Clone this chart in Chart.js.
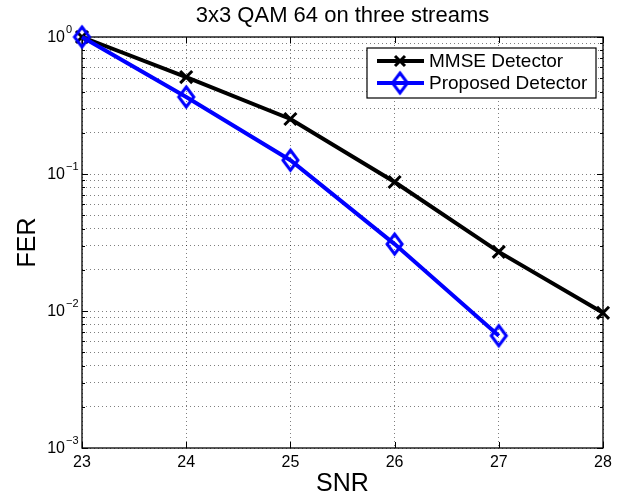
<!DOCTYPE html>
<html>
<head>
<meta charset="utf-8">
<script src="https://cdn.jsdelivr.net/npm/chart.js@4/dist/chart.umd.min.js"></script>
<style>
  html, body { margin: 0; padding: 0; background: #fff; }
</style>
</head>
<body>
<canvas id="myChart" width="626" height="497"></canvas>
<script>
//data
const snr = [23, 24, 25, 26, 27, 28];
const mmseFer = [1.0, 0.51, 0.252, 0.0874, 0.027, 0.0097];
const proposedFer = [1.0, 0.365, 0.126, 0.0308, 0.0066];

const xTicks = [23, 24, 25, 26, 27, 28];
const decades = [0.001, 0.01, 0.1];
const mantissas = [1, 2, 3, 4, 5, 6, 7, 8, 9];
const decadeTicks = [1, 0.1, 0.01, 0.001];
const decadeExps = ['0', '\u22121', '\u22122', '\u22123'];
const yTicks = decades.flatMap(d => mantissas.map(m => +(d * m).toPrecision(3))).concat([1]);

const FONT = '"Liberation Sans", Arial, Helvetica, sans-serif';

// hollow diamond marker, a bit taller than wide like matlab's
function diamondMarker(w, h, lw, color) {
    const c = document.createElement('canvas');
    c.width = w + lw * 2 + 2;
    c.height = h + lw * 2 + 2;
    const g = c.getContext('2d');
    const cx = c.width / 2, cy = c.height / 2;
    g.strokeStyle = color;
    g.lineWidth = lw;
    g.beginPath();
    g.moveTo(cx, cy - h / 2);
    g.lineTo(cx + w / 2, cy);
    g.lineTo(cx, cy + h / 2);
    g.lineTo(cx - w / 2, cy);
    g.closePath();
    g.stroke();
    return c;
}
const diamond = diamondMarker(15, 20, 3, '#0000ff');

function drawCross(ctx, x, y, r) {
    ctx.beginPath();
    ctx.moveTo(x - r, y - r); ctx.lineTo(x + r, y + r);
    ctx.moveTo(x - r, y + r); ctx.lineTo(x + r, y - r);
    ctx.stroke();
}

const matlabFrame = {
    id: 'matlabFrame',
    beforeDatasetsDraw(chart) {
        const {ctx, chartArea: a, scales: {x, y}} = chart;
        ctx.save();
        ctx.strokeStyle = '#000';
        ctx.lineWidth = 1;
        ctx.beginPath();
        xTicks.forEach(v => {
            const px = Math.round(x.getPixelForValue(v)) + 0.5;
            ctx.moveTo(px, a.bottom); ctx.lineTo(px, a.bottom - 6);
            ctx.moveTo(px, a.top); ctx.lineTo(px, a.top + 6);
        });
        yTicks.forEach(v => {
            const py = Math.round(y.getPixelForValue(v)) + 0.5;
            const len = decadeTicks.includes(v) ? 6 : 3;
            ctx.moveTo(a.left, py); ctx.lineTo(a.left + len, py);
            ctx.moveTo(a.right, py); ctx.lineTo(a.right - len, py);
        });
        ctx.stroke();
        ctx.lineWidth = 1.3;
        ctx.strokeRect(a.left, a.top, a.right - a.left, a.bottom - a.top);
        ctx.restore();
    },
    afterDraw(chart) {
        const {ctx, chartArea: a, scales: {y}} = chart;
        ctx.save();
        ctx.fillStyle = '#000';
        // y tick labels as 10 with exponent
        decadeTicks.forEach((v, i) => {
            const py = y.getPixelForValue(v);
            ctx.font = '16px ' + FONT;
            ctx.textAlign = 'right';
            ctx.textBaseline = 'middle';
            ctx.fillText('10', a.left - 17, py + 1);
            ctx.font = '11px ' + FONT;
            ctx.textAlign = 'left';
            ctx.fillText(decadeExps[i], a.left - 16, py - 7);
        });

        // legend box
        const lw = 229, lh = 50;
        const lx = a.right - 7 - lw, ly = a.top + 11;
        ctx.fillStyle = '#fff';
        ctx.fillRect(lx, ly, lw, lh);
        ctx.strokeStyle = '#000';
        ctx.lineWidth = 1.2;
        ctx.strokeRect(lx, ly, lw, lh);

        const rows = [
            {label: 'MMSE Detector', color: '#000', y: ly + 13},
            {label: 'Proposed Detector', color: '#0000ff', y: ly + 35}
        ];
        rows.forEach((r, i) => {
            ctx.strokeStyle = r.color;
            ctx.lineWidth = 4;
            ctx.beginPath();
            ctx.moveTo(lx + 10, r.y); ctx.lineTo(lx + 57, r.y);
            ctx.stroke();
            const mx = lx + 33;
            if (i === 0) {
                ctx.lineWidth = 3;
                drawCross(ctx, mx, r.y, 5);
            } else {
                ctx.drawImage(diamond, mx - diamond.width / 2, r.y - diamond.height / 2);
            }
            ctx.fillStyle = '#000';
            ctx.font = '19px ' + FONT;
            ctx.textAlign = 'left';
            ctx.textBaseline = 'middle';
            ctx.fillText(r.label, lx + 62, r.y + 1);
        });
        ctx.restore();
    }
};

const ctx = document.getElementById('myChart').getContext('2d');
const chart = new Chart(ctx, {
    type: 'line',
    data: {
        datasets: [
            {
                label: 'Proposed Detector',
                data: proposedFer.map((v, i) => ({x: snr[i], y: v})),
                borderColor: '#0000ff',
                borderWidth: 4,
                pointStyle: diamond,
                pointRadius: 12,
                pointBorderWidth: 3,
                pointBackgroundColor: 'rgba(0,0,0,0)',
                pointBorderColor: '#0000ff',
                tension: 0,
                fill: false,
                clip: false,
                order: 0
            },
            {
                label: 'MMSE Detector',
                data: mmseFer.map((v, i) => ({x: snr[i], y: v})),
                borderColor: '#000',
                borderWidth: 4,
                pointStyle: 'crossRot',
                pointRadius: 8.5,
                pointBorderWidth: 3,
                pointBorderColor: '#000',
                tension: 0,
                fill: false,
                clip: false,
                order: 1
            }
        ]
    },
    options: {
        responsive: false,
        animation: false,
        events: [],
        layout: { padding: { right: 23 } },
        plugins: {
            legend: { display: false },
            tooltip: { enabled: false },
            title: {
                display: true,
                text: '3x3 QAM 64 on three streams',
                color: '#000',
                fullSize: false,
                font: { family: FONT, size: 22, weight: 'normal', lineHeight: 1.2 },
                padding: { top: 3, bottom: 7.6 }
            }
        },
        scales: {
            x: {
                type: 'linear',
                min: 23, max: 28,
                afterBuildTicks: s => { s.ticks = xTicks.map(v => ({value: v})); },
                afterFit: s => { s.height = 49; },
                ticks: { color: '#000', font: { family: FONT, size: 16 }, padding: 5, autoSkip: false, maxRotation: 0 },
                grid: { color: 'rgba(0,0,0,0.5)', lineWidth: 1, drawTicks: false },
                border: { display: false, dash: [1, 3] },
                title: { display: true, text: 'SNR', color: '#000', font: { family: FONT, size: 25, lineHeight: 1 }, padding: { top: 0, bottom: 0 } }
            },
            y: {
                type: 'logarithmic',
                min: 0.001, max: 1,
                afterBuildTicks: s => { s.ticks = yTicks.map(v => ({value: v})); },
                afterFit: s => { s.width = 82; },
                ticks: { callback: () => '', autoSkip: false },
                grid: { color: 'rgba(0,0,0,0.5)', lineWidth: 1, drawTicks: false },
                border: { display: false, dash: [1, 3] },
                title: { display: true, text: 'FER', color: '#000', font: { family: FONT, size: 25, lineHeight: 1 }, padding: { top: 16, bottom: 0 } }
            }
        }
    },
    plugins: [matlabFrame]
});
</script>
</body>
</html>
